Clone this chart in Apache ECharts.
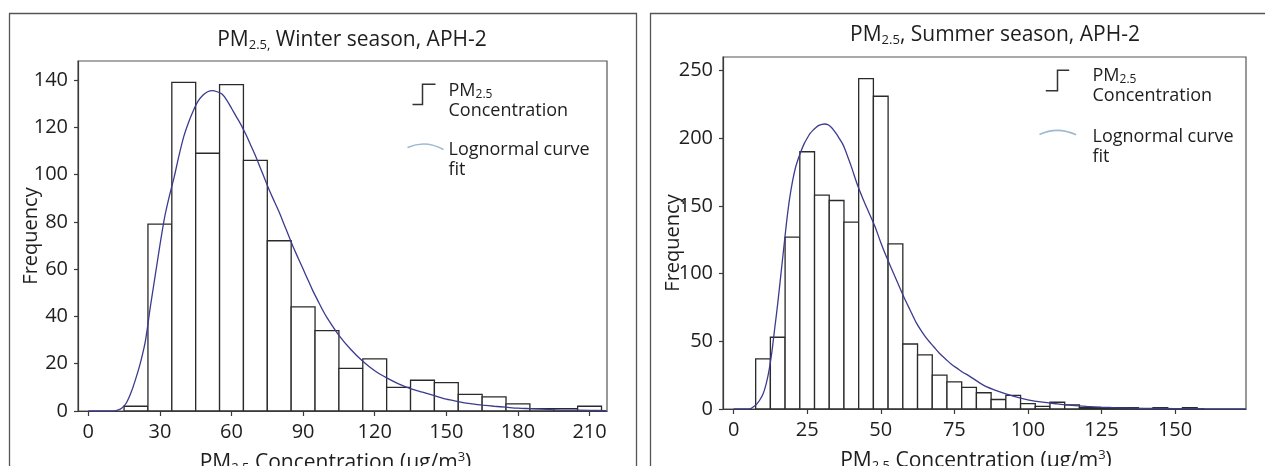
<!DOCTYPE html>
<html>
<head>
<meta charset="utf-8">
<script src="https://cdn.jsdelivr.net/npm/echarts@6/dist/echarts.min.js"></script>
<style>
html,body{margin:0;padding:0;background:#fff;}
#c{width:1265px;height:466px;}
</style>
</head>
<body>
<div id="c"></div>
<script>
// ---------- Winter (left panel) ----------
const winterBinWidth = 10;
const winterBinCenters = [20, 30, 40, 50, 60, 70, 80, 90, 100, 110, 120, 130, 140, 150, 160, 170, 180, 190, 200, 210];
const winterCounts     = [2, 79, 139, 109, 138, 106, 72, 44, 34, 18, 22, 10, 13, 12, 7, 6, 3, 1, 1, 2];
const winterCurveX = [0, 10, 12, 14, 16, 18, 20, 22, 24, 26, 28, 30, 32, 34, 36, 38, 40, 42, 44, 46, 48, 50, 52, 54, 56, 58, 60, 62, 64, 66, 68, 70, 72, 74, 76, 78, 80, 82, 84, 86, 88, 90, 92, 94, 96, 98, 100, 105, 110, 115, 120, 125, 130, 135, 140, 145, 150, 155, 160, 165, 170, 175, 180, 185, 190, 195, 200, 210, 217];
const winterCurveY = [0, 0, 0.3, 1.2, 3.5, 8, 14, 21, 30, 44, 57, 70, 82, 91, 99, 108, 116, 122, 127, 131, 133.5, 135, 135.5, 135, 134, 131.5, 128, 124.5, 121, 117, 112.5, 108, 103, 98, 93, 88.5, 84, 79, 74, 69, 64.5, 60, 55.5, 51, 47, 43, 39.5, 32, 26, 21, 17, 14, 11.5, 9.5, 8, 6.5, 5, 4, 3.1, 2.5, 2, 1.6, 1.2, 1, 0.8, 0.5, 0.4, 0.3, 0.2];
const winterXTicks = [0, 30, 60, 90, 120, 150, 180, 210];
const winterYTicks = [0, 20, 40, 60, 80, 100, 120, 140];

// ---------- Summer (right panel) ----------
const summerBinWidth = 5;
const summerBinCenters = [10, 15, 20, 25, 30, 35, 40, 45, 50, 55, 60, 65, 70, 75, 80, 85, 90, 95, 100, 105, 110, 115, 120, 125, 130, 135, 145, 155];
const summerCounts     = [37, 53, 127, 190, 158, 154, 138, 244, 231, 122, 48, 40, 25, 20, 16, 12, 7, 10, 4, 2, 5, 3, 1, 1, 1, 1, 1, 1];
const summerCurveX = [0, 5, 6, 7, 8, 9, 10, 11, 12, 13, 14, 15, 16, 17, 18, 19, 20, 21, 22, 23, 24, 25, 26, 27, 28, 29, 30, 31, 32, 33, 34, 35, 36, 37, 38, 39, 40, 42, 44, 46, 48, 50, 52, 54, 56, 58, 60, 62, 64, 66, 68, 70, 72, 74, 76, 78, 80, 85, 90, 95, 100, 105, 110, 115, 120, 125, 130, 140, 150, 160, 174];
const summerCurveY = [0, 0, 0.5, 2, 4, 7, 11, 18, 28, 42, 60, 78, 98, 118, 138, 155, 168, 178, 185, 191, 196, 200, 203.5, 206, 208, 209.5, 210.3, 210.5, 210, 208.5, 206, 203, 199.5, 196, 191, 185, 179, 166, 155, 145, 135, 123, 112, 102, 92, 82, 73, 64, 57, 51, 46, 41, 37, 33, 30, 27, 24.5, 17.5, 13, 9.5, 6.8, 5, 3.8, 2.7, 1.9, 1.3, 0.9, 0.5, 0.3, 0.2, 0.1];
const summerXTicks = [0, 25, 50, 75, 100, 125, 150];
const summerYTicks = [0, 50, 100, 150, 200, 250];

// ---------- Texts ----------
const winterTitle = '{a|PM}{s|2.5,}{a| Winter season, APH-2}';
const summerTitle = '{a|PM}{s|2.5}{a|, Summer season, APH-2}';
const xName = '{a|PM}{s|2.5}{a| Concentration (µg/m}{p|3}{a|)}';
const yName = 'Frequency';
const histName = 'PM2.5 Concentration';
const fitName = 'Lognormal curve fit';

const FONT = 'Open Sans';
const TXT = '#1e1e1e';
const AX = '#3a3a3a';
const CURVE = '#3b3b8f';

function zip(a, b) { return a.map((v, i) => [v, b[i]]); }

function histRender(w) {
  return function (params, api) {
    const c = api.value(0), v = api.value(1);
    const p1 = api.coord([c - w / 2, v]);
    const p2 = api.coord([c + w / 2, 0]);
    return {
      type: 'rect',
      shape: { x: p1[0], y: p1[1], width: p2[0] - p1[0], height: p2[1] - p1[1] },
      style: { fill: '#ffffff', stroke: '#2a2a2a', lineWidth: 1.3 }
    };
  };
}

const richMain = (size, lh) => ({
  a: { fontFamily: FONT, fontSize: size, fontWeight: 'normal', lineHeight: lh, color: TXT },
  s: { fontFamily: FONT, fontSize: Math.round(size * 0.62), fontWeight: 'normal', lineHeight: Math.round(size * 0.5), verticalAlign: 'bottom', color: TXT },
  p: { fontFamily: FONT, fontSize: Math.round(size * 0.62), fontWeight: 'normal', lineHeight: Math.round(size * 0.6), verticalAlign: 'top', color: TXT }
});

function xAxisFor(gridIndex, min, max, ticks, padRight) {
  return {
    type: 'value', gridIndex, min, max,
    name: xName, nameLocation: 'middle', nameGap: 40, nameMoveOverlap: false,
    nameTextStyle: { fontFamily: FONT, fontSize: 21, color: TXT, padding: [0, padRight, 0, 0], rich: richMain(21, 24) },
    axisLine: { show: true, onZero: false, lineStyle: { color: AX, width: 1.2 } },
    axisTick: { show: true, inside: false, length: 5, customValues: ticks, lineStyle: { color: AX, width: 1.2 } },
    axisLabel: { customValues: ticks, margin: 11, fontFamily: FONT, fontSize: 20, color: TXT },
    splitLine: { show: false }
  };
}
function yAxisFor(gridIndex, max, ticks, gap, padRight) {
  return {
    type: 'value', gridIndex, min: 0, max,
    name: yName, nameLocation: 'middle', nameGap: gap, nameMoveOverlap: false,
    nameTextStyle: { fontFamily: FONT, fontSize: 20, color: TXT, lineHeight: 24, padding: [0, padRight, 0, 0] },
    axisLine: { show: true, onZero: false, lineStyle: { color: AX, width: 1.2 } },
    axisTick: { show: true, inside: false, length: 4, customValues: ticks, lineStyle: { color: AX, width: 1.2 } },
    axisLabel: { customValues: ticks, margin: 10, fontFamily: FONT, fontSize: 20, color: TXT },
    splitLine: { show: false }
  };
}

const legendRich = {
  a: { fontFamily: FONT, fontSize: 18, lineHeight: 20, color: TXT },
  s: { fontFamily: FONT, fontSize: 12, lineHeight: 9, verticalAlign: 'bottom', color: TXT }
};
function legendFor(left, top, iw, gap, stepPath, arcPath) {
  return {
    left, top, orient: 'vertical', itemWidth: iw, itemHeight: 40, itemGap: gap,
    selectedMode: false, padding: 0,
    formatter: n => n === histName ? '{a|PM}{s|2.5}\n{a|Concentration}' : '{a|Lognormal curve}\n{a|fit}',
    textStyle: { fontFamily: FONT, fontSize: 18, color: TXT, rich: legendRich },
    data: [
      { name: histName, icon: 'path://' + stepPath, itemStyle: { color: 'none', borderColor: '#333333', borderWidth: 1.5 } },
      { name: fitName, icon: 'path://' + arcPath, itemStyle: { color: 'none', borderColor: '#9fb9cf', borderWidth: 1.6 } }
    ]
  };
}

const chart = echarts.init(document.getElementById('c'), null, { renderer: 'canvas' });
chart.setOption({
  animation: false,
  backgroundColor: '#ffffff',
  title: [
    { text: winterTitle, left: 352, top: 28, textAlign: 'center', padding: 0, textStyle: { fontFamily: FONT, fontSize: 21, fontWeight: 'normal', color: TXT, rich: richMain(21, 24) } },
    { text: summerTitle, left: 995, top: 23, textAlign: 'center', padding: 0, textStyle: { fontFamily: FONT, fontSize: 21, fontWeight: 'normal', color: TXT, rich: richMain(21, 24) } }
  ],
  legend: [
    legendFor(405, 78, 36, 14, 'M0,0 M36,40 M5,24 L15,24 L15,3.7 L28,3.7', 'M0,0 M36,40 M0,8 Q18,0 36,10'),
    legendFor(1037, 63, 48, 16, 'M0,0 M48,40 M6.3,25.3 L18,25.3 L18,4.7 L29.7,4.7', 'M0,0 M48,40 M0,8 Q18,-0.5 36.6,8.3')
  ],
  graphic: [
    { type: 'rect', shape: { x: 9.5, y: 13.5, width: 627, height: 480 }, style: { fill: 'none', stroke: '#555', lineWidth: 1.3 }, silent: true },
    { type: 'rect', shape: { x: 650.5, y: 13.5, width: 640, height: 480 }, style: { fill: 'none', stroke: '#555', lineWidth: 1.3 }, silent: true }
  ],
  grid: [
    { left: 78, top: 61, width: 529, height: 350, outerBoundsMode: 'none', containLabel: false, show: true, borderColor: '#555', borderWidth: 1.2, backgroundColor: 'transparent' },
    { left: 723, top: 57, width: 523, height: 352, outerBoundsMode: 'none', containLabel: false, show: true, borderColor: '#555', borderWidth: 1.2, backgroundColor: 'transparent' }
  ],
  xAxis: [
    xAxisFor(0, -4.3, 217.3, winterXTicks, 14),
    xAxisFor(1, -3.6, 174.1, summerXTicks, 17)
  ],
  yAxis: [
    yAxisFor(0, 148, winterYTicks, 35, 0),
    yAxisFor(1, 260, summerYTicks, 38, 20)
  ],
  series: [
    { name: histName, type: 'custom', xAxisIndex: 0, yAxisIndex: 0, renderItem: histRender(winterBinWidth), encode: { x: 0, y: 1 }, data: zip(winterBinCenters, winterCounts), z: 2, clip: true, itemStyle: { color: '#333' } },
    { name: fitName, type: 'line', xAxisIndex: 0, yAxisIndex: 0, data: zip(winterCurveX, winterCurveY), showSymbol: false, smooth: 0.3, clip: true, z: 3, lineStyle: { color: CURVE, width: 1.3 }, itemStyle: { color: CURVE } },
    { name: histName, type: 'custom', xAxisIndex: 1, yAxisIndex: 1, renderItem: histRender(summerBinWidth), encode: { x: 0, y: 1 }, data: zip(summerBinCenters, summerCounts), z: 2, clip: true, itemStyle: { color: '#333' } },
    { name: fitName, type: 'line', xAxisIndex: 1, yAxisIndex: 1, data: zip(summerCurveX, summerCurveY), showSymbol: false, smooth: 0.3, clip: true, z: 3, lineStyle: { color: CURVE, width: 1.3 }, itemStyle: { color: CURVE } }
  ]
});
</script>
</body>
</html>
